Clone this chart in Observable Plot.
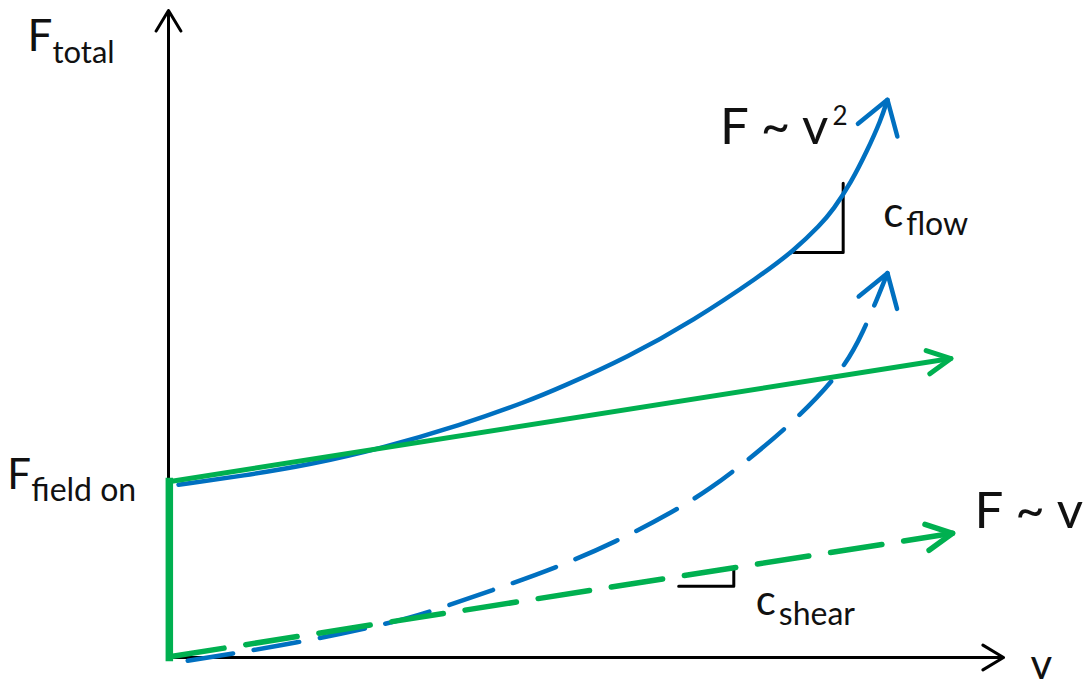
<!DOCTYPE html>
<html>
<head>
<meta charset="utf-8">
<script src="https://cdn.jsdelivr.net/npm/d3@7"></script>
<script src="https://cdn.jsdelivr.net/npm/@observablehq/plot@0.6"></script>
<style>
  html, body { margin: 0; padding: 0; background: #fff; }
  #chart { width: 1092px; height: 688px; overflow: hidden; }
</style>
</head>
<body>
<div id="chart"></div>
<script>
// ---- Schematic values (v = velocity, F = total force) ----
// Blue solid: field on, with flow term (F ~ v^2)
const flowOnV = [0.12, 0.90, 1.70, 2.54, 3.50, 4.30, 4.69, 5.50, 6.29, 7.09, 7.49, 7.81, 7.96, 8.17, 8.37, 8.53, 8.61];
const flowOnF = [2.67, 2.81, 2.98, 3.23, 3.59, 3.96, 4.17, 4.64, 5.21, 5.90, 6.29, 6.69, 6.92, 7.33, 7.84, 8.30, 8.62];
// Blue dashed: field off, with flow term
const flowOffV = [0.23, 1.58, 2.69, 3.14, 3.88, 4.63, 5.35, 6.07, 6.49, 6.93, 7.53, 8.05, 8.31, 8.61];
const flowOffF = [-0.05, 0.23, 0.54, 0.71, 1.04, 1.38, 1.78, 2.27, 2.61, 3.04, 3.69, 4.40, 4.98, 5.94];
// Green solid: field on, shear only (F ~ v)
const shearOnV = [0.02, 9.37];
const shearOnF = [2.72, 4.62];
// Green dashed: field off, shear only
const shearOffV = [0.05, 9.39];
const shearOffF = [0.02, 1.92];
// Green vertical step: field-on yield force at v = 0
const stepV = [0.01, 0.01];
const stepF = [0.0, 2.72];
// Slope triangles
const flowTriV = [7.49, 8.08, 8.08];
const flowTriF = [6.26, 6.26, 7.33];
const shearTriV = [6.11, 6.77, 6.77];
const shearTriF = [1.10, 1.10, 1.38];
// Axis extents
const vAxis = [0, 10];
const fAxis = [0, 10];

// ---- Texts ----
const yLabel = ["F", "total"];
const fieldLabel = ["F", "field on"];
const flowLaw = ["F ~ v", "2"];
const shearLaw = "F ~ v";
const flowSlope = ["c", "flow"];
const shearSlope = ["c", "shear"];
const xLabel = "v";

// ---- Styling ----
const BLUE = "#0070C0";
const GREEN = "#00B050";
const FONT = "Lato, 'Open Sans', sans-serif";
const TXT = "#111";

const xOpts = {domain: vAxis, range: [168, 1003], axis: null};
const yOpts = {domain: fAxis, range: [657, 10], axis: null};
const sx = Plot.scale({x: xOpts});
const sy = Plot.scale({y: yOpts});

const pts = (vs, fs) => vs.map((v, i) => ({v, F: fs[i]}));
const last = (vs, fs) => ({v: vs[vs.length - 1], F: fs[fs.length - 1]});
function headAngle(vs, fs) {
  const n = vs.length;
  const x0 = sx.apply(vs[n - 2]), y0 = sy.apply(fs[n - 2]);
  const x1 = sx.apply(vs[n - 1]), y1 = sy.apply(fs[n - 1]);
  return Math.atan2(x1 - x0, -(y1 - y0)) * 180 / Math.PI;
}
function chevron(halfDeg) {
  const a = halfDeg * Math.PI / 180;
  return {
    draw(context, l) {
      const s = Math.sin(a) * l, c = Math.cos(a) * l;
      context.moveTo(-s, -l + c);
      context.lineTo(0, -l);
      context.lineTo(s, -l + c);
    }
  };
}
function head(vs, fs, color, len, halfDeg, sw, turn = 0) {
  return Plot.vector([last(vs, fs)], {
    x: "v", y: "F", rotate: headAngle(vs, fs) + turn, length: len, anchor: "end",
    shape: chevron(halfDeg), stroke: color, fill: "none", strokeWidth: sw,
    strokeLinecap: "round", strokeLinejoin: "round"
  });
}
function label(str, at, opts) {
  return Plot.text([str], {
    x: () => at.v, y: () => at.F, text: d => d,
    textAnchor: "start", lineAnchor: "bottom", fontFamily: FONT, fill: TXT, ...opts
  });
}

const origin = {v: vAxis[0], F: fAxis[0]};
const yTop = {v: vAxis[0], F: fAxis[1]};
const xEnd = {v: vAxis[1], F: fAxis[0]};
const fieldPt = {v: stepV[1], F: stepF[1]};
const flowCorner = {v: flowTriV[2], F: flowTriF[2]};
const shearCorner = {v: shearTriV[2], F: shearTriF[2]};
const flowEnd = last(flowOnV, flowOnF);
const shearOffEnd = last(shearOffV, shearOffF);

const chart = Plot.plot({
  width: 1092,
  height: 688,
  x: xOpts,
  y: yOpts,
  style: {fontFamily: FONT, background: "white"},
  marks: [
    // axes
    Plot.arrow([{x1: origin.v, y1: origin.F, x2: xEnd.v, y2: xEnd.F}], {
      x1: "x1", y1: "y1", x2: "x2", y2: "y2", stroke: "black", strokeWidth: 3,
      headLength: 12, headAngle: 62, strokeLinejoin: "round"
    }),
    Plot.arrow([{x1: origin.v, y1: origin.F, x2: yTop.v, y2: yTop.F}], {
      x1: "x1", y1: "y1", x2: "x2", y2: "y2", stroke: "black", strokeWidth: 3,
      headLength: 12, headAngle: 62, strokeLinejoin: "round"
    }),
    // slope triangles
    Plot.line(pts(flowTriV, flowTriF), {x: "v", y: "F", stroke: "black", strokeWidth: 3}),
    Plot.line(pts(shearTriV, shearTriF), {x: "v", y: "F", stroke: "black", strokeWidth: 3}),
    // blue dashed (field off, flow)
    Plot.line(pts(flowOffV, flowOffF), {x: "v", y: "F", curve: "basis", stroke: BLUE, strokeWidth: 4.5, strokeDasharray: "46,21"}),
    head(flowOffV, flowOffF, BLUE, 37, 33, 4.5, -4),
    // green dashed (field off, shear)
    Plot.line(pts(shearOffV, shearOffF), {x: "v", y: "F", stroke: GREEN, strokeWidth: 5.5, strokeDasharray: "52,22"}),
    head(shearOffV, shearOffF, GREEN, 29, 27, 5.5),
    // blue solid (field on, flow)
    Plot.line(pts(flowOnV, flowOnF), {x: "v", y: "F", curve: "basis", stroke: BLUE, strokeWidth: 4.5}),
    head(flowOnV, flowOnF, BLUE, 38, 33, 4.5),
    // green solid (field on, shear)
    Plot.line(pts(shearOnV, shearOnF), {x: "v", y: "F", stroke: GREEN, strokeWidth: 5}),
    head(shearOnV, shearOnF, GREEN, 26, 27, 5),
    // green vertical step
    Plot.line(pts(stepV, stepF), {x: "v", y: "F", stroke: GREEN, strokeWidth: 7.5, strokeLinecap: "square"}),
    // labels
    label(yLabel[0], yTop, {dx: -141, dy: 40, fontSize: 44}),
    label(yLabel[1], yTop, {dx: -116, dy: 52, fontSize: 31}),
    label(fieldLabel[0], fieldPt, {dx: -162, dy: 7, fontSize: 42}),
    label(fieldLabel[1], fieldPt, {dx: -138, dy: 19, fontSize: 32}),
    label(flowLaw[0], flowEnd, {textAnchor: "end", dx: -59, dy: 44, fontSize: 51}),
    label(flowLaw[1], flowEnd, {dx: -55, dy: 25, fontSize: 26}),
    label(shearLaw, shearOffEnd, {dx: 22, dy: -5, fontSize: 51}),
    label(flowSlope[0], flowCorner, {dx: 40, dy: 44, fontSize: 42}),
    label(flowSlope[1], flowCorner, {dx: 63, dy: 52, fontSize: 32}),
    label(shearSlope[0], shearCorner, {dx: 22, dy: 47, fontSize: 42}),
    label(shearSlope[1], shearCorner, {dx: 45, dy: 57, fontSize: 32}),
    label(xLabel, xEnd, {dx: 27, dy: 21, fontSize: 42})
  ]
});
document.getElementById("chart").appendChild(chart);
</script>
</body>
</html>
